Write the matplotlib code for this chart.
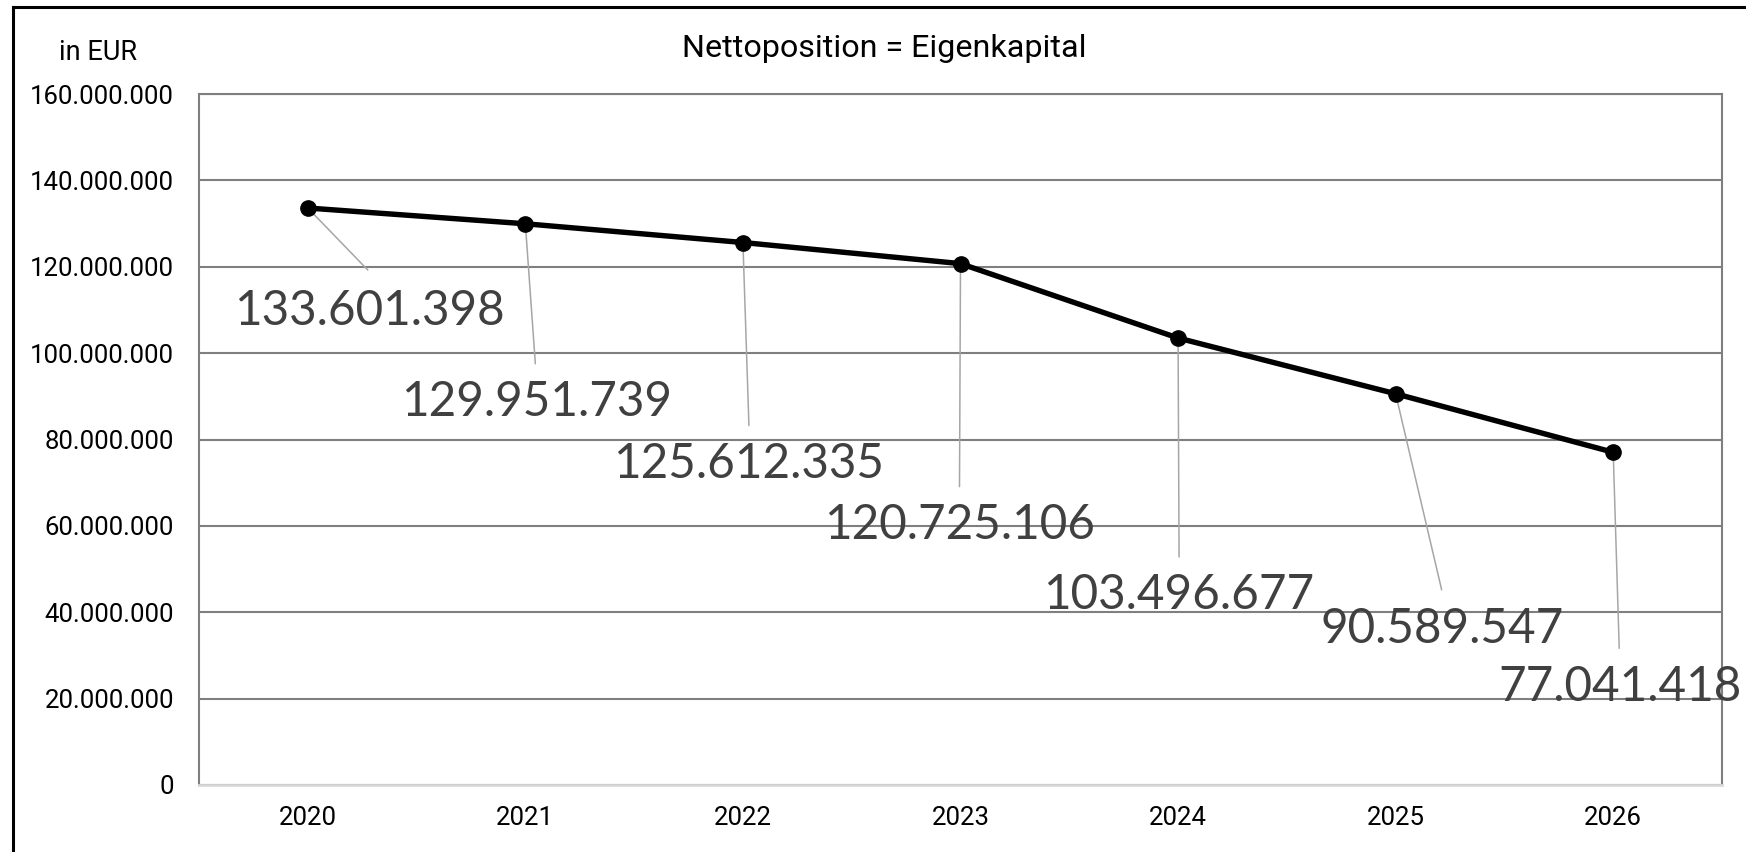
import matplotlib
matplotlib.use("Agg")
import matplotlib.pyplot as plt
from matplotlib.ticker import FuncFormatter, MultipleLocator
from matplotlib.lines import Line2D

# data
years = ["2020", "2021", "2022", "2023", "2024", "2025", "2026"]
equity = [133601398, 129951739, 125612335, 120725106, 103496677, 90589547, 77041418]

# label offsets from each point, in pixels (text centre, leader line end)
label_offsets = [(62, -103), (11, -178), (6, -221), (-1, -261), (1, -257), (46, -235), (7, -235)]
leader_offsets = [(60, -62), (10, -140), (6, -183), (-1, -223), (1, -219), (46, -196), (6, -196)]


def dotted(v, pos=None):
    return f"{int(round(v)):,}".replace(",", ".")


plt.rcParams["font.family"] = ["Roboto", "DejaVu Sans"]

fig = plt.figure(figsize=(17.46, 8.52), dpi=100)
ax = fig.add_axes([199 / 1746, 67 / 852, 1523 / 1746, 691 / 852])

# outer frame (top and left edge only, the rest runs off the canvas)
fig.add_artist(Line2D([13 / 1746, 1.0], [1 - 7 / 852, 1 - 7 / 852],
                      transform=fig.transFigure, color="black", lw=2.2))
fig.add_artist(Line2D([13 / 1746, 13 / 1746], [0, 1 - 7 / 852],
                      transform=fig.transFigure, color="black", lw=2.2))

x = list(range(len(years)))
ax.plot(x, equity, color="black", lw=3.9, marker="o", ms=11, zorder=3,
        solid_capstyle="round")

for i, v in enumerate(equity):
    ax.annotate("", xy=(i, v), xytext=leader_offsets[i], textcoords="offset pixels",
                arrowprops=dict(arrowstyle="-", color="#a6a6a6", lw=1.1,
                                shrinkA=0, shrinkB=0), zorder=2)
    ax.annotate(dotted(v), xy=(i, v), xytext=label_offsets[i],
                textcoords="offset pixels", ha="center", va="center",
                fontsize=34.3, color="#404040", family=["Lato", "DejaVu Sans"],
                annotation_clip=False, zorder=4)

ax.set_xlim(-0.5, 6.5)
ax.set_ylim(0, 160000000)
ax.yaxis.set_major_locator(MultipleLocator(20000000))
ax.yaxis.set_major_formatter(FuncFormatter(dotted))
ax.set_xticks(x)
ax.set_xticklabels(years)
ax.tick_params(axis="both", length=0, labelsize=18.5, colors="black")
ax.tick_params(axis="y", pad=18)
ax.tick_params(axis="x", pad=15)

ax.grid(axis="y", color="#7f7f7f", lw=1.5)
ax.set_axisbelow(True)
for side in ["left", "top", "right"]:
    ax.spines[side].set_color("#7f7f7f")
    ax.spines[side].set_linewidth(1.5)
ax.spines["bottom"].set_color("#d9d9d9")
ax.spines["bottom"].set_linewidth(2)

fig.text(884.5 / 1746, 1 - 48.5 / 852, "Nettoposition = Eigenkapital",
         ha="center", va="center", fontsize=23.2)
fig.text(98.5 / 1746, 1 - 53 / 852, "in EUR", ha="center", va="center", fontsize=19.5)

fig.savefig("out.png", dpi=100)
